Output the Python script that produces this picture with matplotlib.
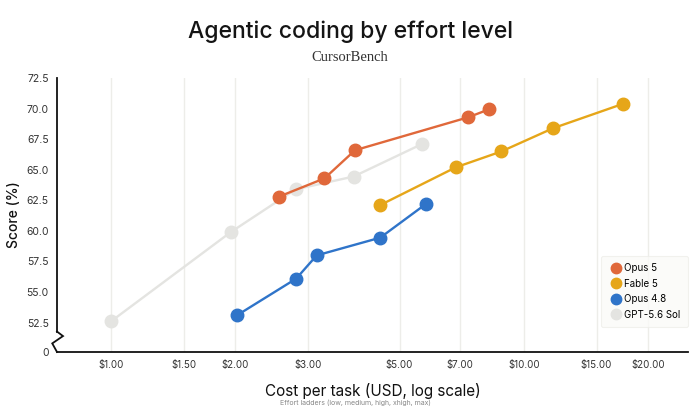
import numpy as np
import matplotlib
matplotlib.use("Agg")
import matplotlib.pyplot as plt
from matplotlib.lines import Line2D

# data (cost in USD, score in %)
opus5_cost = [2.55, 3.29, 3.90, 7.34, 8.24]
opus5_score = [62.8, 64.3, 66.6, 69.3, 69.95]

fable5_cost = [4.48, 6.84, 8.82, 11.77, 17.4]
fable5_score = [62.1, 65.2, 66.5, 68.4, 70.4]

opus48_cost = [2.02, 2.81, 3.15, 4.49, 5.79]
opus48_score = [53.1, 56.1, 58.0, 59.45, 62.2]

gpt_cost = [1.00, 1.95, 2.80, 3.87, 5.66]
gpt_score = [52.6, 59.9, 63.4, 64.45, 67.1]

x_ticks = [1, 1.5, 2, 3, 5, 7, 10, 15, 20]
x_labels = ["$1.00", "$1.50", "$2.00", "$3.00", "$5.00", "$7.00", "$10.00", "$15.00", "$20.00"]
y_ticks = [52.5, 55.0, 57.5, 60.0, 62.5, 65.0, 67.5, 70.0, 72.5]

ORANGE = "#E0683A"
YELLOW = "#E6A619"
BLUE = "#2F74C9"
GRAY = "#E4E4E1"
Y_BOTTOM = 50.1

plt.rcParams['font.family'] = ['Inter', 'DejaVu Sans']

fig = plt.figure(figsize=(7, 4.2), dpi=100)
ax = fig.add_axes([0.0814, 0.162, 0.9016, 0.652])

series = [
    ("GPT-5.6 Sol", gpt_cost, gpt_score, GRAY, 2),
    ("Opus 4.8", opus48_cost, opus48_score, BLUE, 3),
    ("Fable 5", fable5_cost, fable5_score, YELLOW, 3),
    ("Opus 5", opus5_cost, opus5_score, ORANGE, 4),
]
for name, xs, ys, col, z in series:
    ax.plot(xs, ys, color=col, lw=1.7, marker="o", ms=9, zorder=z, clip_on=False)

ax.set_xscale("log")
ax.set_xlim(0.74, 25)
ax.set_ylim(Y_BOTTOM, 72.5)
ax.xaxis.set_major_locator(matplotlib.ticker.FixedLocator(x_ticks))
ax.xaxis.set_minor_locator(matplotlib.ticker.NullLocator())
ax.set_xticklabels([l.replace("$", r"\$") for l in x_labels])
ax.set_yticks([Y_BOTTOM] + y_ticks)
ax.set_yticklabels(["0"] + [f"{v:.1f}" for v in y_ticks])
ax.tick_params(axis="both", length=0, labelsize=7.5, colors="#333333")
ax.tick_params(axis="x", pad=6, labelsize=7)
ax.tick_params(axis="y", pad=6)

for v in x_ticks:
    ax.axvline(v, color="#EDEDE9", lw=1, zorder=0)

for s in ["top", "right"]:
    ax.spines[s].set_visible(False)
ax.spines["bottom"].set_color("#111111")
ax.spines["bottom"].set_linewidth(1.3)
ax.spines["left"].set_bounds(51.77, 72.5)
ax.spines["left"].set_color("#111111")
ax.spines["left"].set_linewidth(1.3)

# axis break zigzag on the left spine
zx = [0.0, 0.0095, -0.0075, 0.0]
zy = [51.77, 51.4, 50.8, Y_BOTTOM]
ax.plot(zx, zy, color="#111111", lw=1.3, transform=ax.get_yaxis_transform(),
        clip_on=False, zorder=5, solid_joinstyle="miter")

ax.set_ylabel("Score (%)", fontsize=10, fontweight="medium", color="#111111", labelpad=4)
ax.set_xlabel("Cost per task (USD, log scale)", fontsize=11, color="#111111", labelpad=9)
fig.text(0.508, 0.036, "Effort ladders (low, medium, high, xhigh, max)", ha="center",
         fontsize=5, color="#888888")

fig.text(0.5, 0.925, "Agentic coding by effort level", ha="center", va="center",
         fontsize=16.5, fontweight="medium", color="#141414")
fig.text(0.5, 0.862, "CursorBench", ha="center", va="center",
         fontsize=10.5, color="#333333", family=["Liberation Serif", "DejaVu Serif"])

handles = [Line2D([], [], ls="none", marker="o", ms=7.5, color=c) for _, _, _, c, _ in series[::-1]]
names = [n for n, _, _, _, _ in series[::-1]]
leg = ax.legend(handles, names, loc="lower right", bbox_to_anchor=(1.0, 0.09), fontsize=7,
                frameon=True, fancybox=True, handletextpad=0.1, labelspacing=0.55,
                borderpad=0.8, handlelength=1.5, borderaxespad=0)
leg.get_frame().set_facecolor("#FAFAF8")
leg.get_frame().set_edgecolor("#EEEEEA")
leg.get_frame().set_linewidth(0.8)

fig.savefig("out.png", dpi=100, facecolor="white")
